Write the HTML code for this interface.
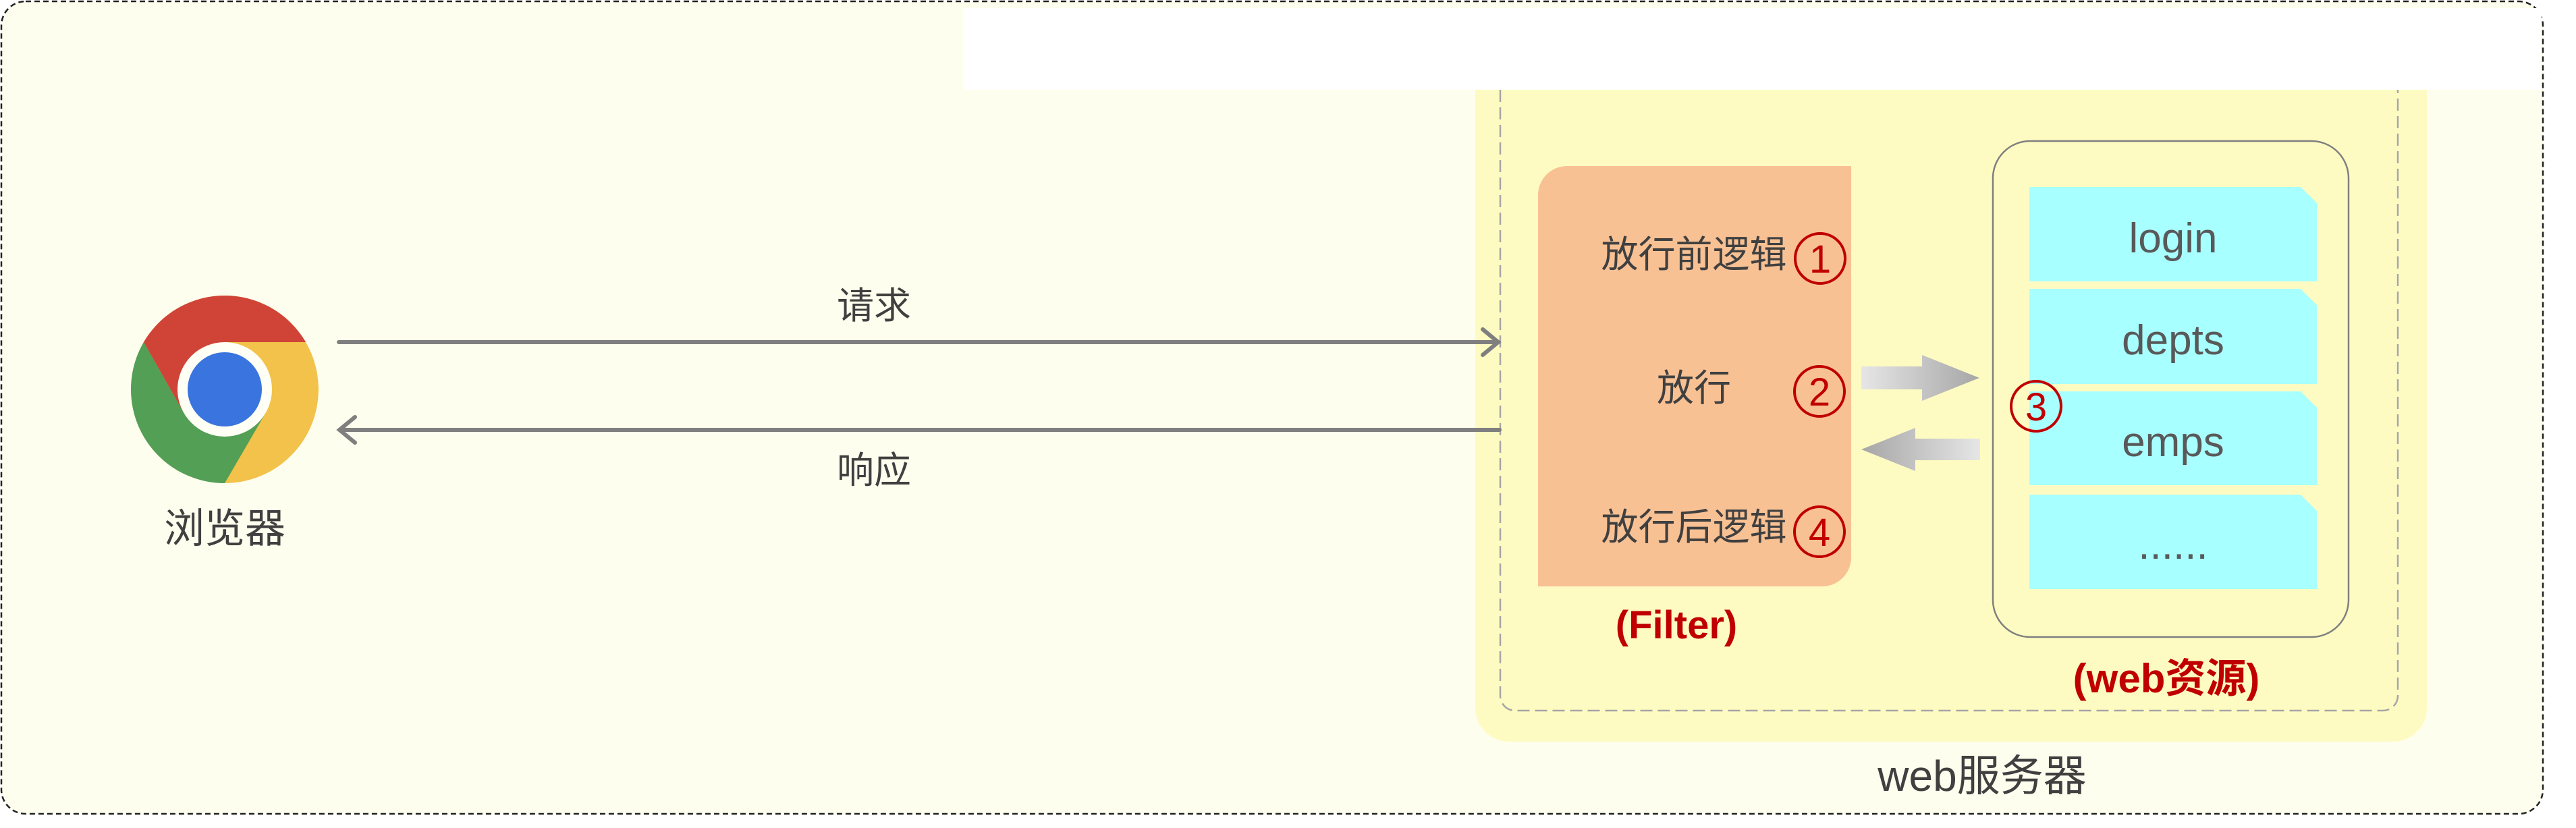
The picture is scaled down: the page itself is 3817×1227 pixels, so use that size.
<!DOCTYPE html>
<html><head><meta charset="utf-8"><style>
html,body{margin:0;padding:0;background:#fff;}
svg{display:block;}
text{font-family:"Liberation Sans","Noto Sans CJK SC",sans-serif;}
</style></head><body>
<svg width="3817" height="1227" viewBox="0 0 3817 1227" xmlns="http://www.w3.org/2000/svg">
<defs>
<linearGradient id="ga" x1="0" x2="1" y1="0" y2="0"><stop offset="0" stop-color="#e6e6e6"/><stop offset="1" stop-color="#a6a6a6"/></linearGradient>
<linearGradient id="gb" x1="1" x2="0" y1="0" y2="0"><stop offset="0" stop-color="#e6e6e6"/><stop offset="1" stop-color="#a6a6a6"/></linearGradient>
<clipPath id="cc"><circle cx="0" cy="0" r="139"/></clipPath>
</defs>
<rect x="2" y="2" width="3766" height="1204" rx="36" fill="#fefeee" stroke="#222" stroke-width="2.5" stroke-dasharray="8,5"/>
<rect x="1427" y="12" width="2339" height="121" fill="#ffffff"/>
<path d="M2186 133 H3596 V1049 a50 50 0 0 1 -50 50 H2236 a50 50 0 0 1 -50 -50 Z" fill="#fefbc2"/>
<path d="M2223 133 V1031 a22 22 0 0 0 22 22 H3531 a22 22 0 0 0 22 -22 V133" fill="none" stroke="#a6a6a6" stroke-width="2.5" stroke-dasharray="18,8"/>
<!-- Filter -->
<path d="M2322 246 H2743 V826 a43 43 0 0 1 -43 43 H2279 V289 a43 43 0 0 1 43 -43 Z" fill="#f8c194"/>
<g fill="#404040" font-size="55" text-anchor="middle">
<text x="2510" y="396">放行前逻辑</text>
<text x="2510" y="594">放行</text>
<text x="2510" y="800">放行后逻辑</text>
</g>
<g fill="none" stroke="#c00000" stroke-width="4">
<circle cx="2697" cy="383" r="37"/>
<circle cx="2696" cy="580" r="37"/>
<circle cx="2696" cy="788" r="37"/>
</g>
<g fill="#c00000" font-size="58" text-anchor="middle">
<text x="2697" y="404">1</text>
<text x="2696" y="601">2</text>
<text x="2696" y="809">4</text>
</g>
<text x="2484" y="946" fill="#c00000" font-size="58" font-weight="bold" text-anchor="middle">(Filter)</text>
<!-- gray arrows -->
<path d="M2758 543 H2848 V526 L2933 560 L2848 594 V577 H2758 Z" fill="url(#ga)"/>
<path d="M2934 650 H2838 V634 L2758 666 L2838 698 V682 H2934 Z" fill="url(#gb)"/>
<!-- resources -->
<rect x="2953" y="209" width="527" height="735" rx="55" fill="none" stroke="#808080" stroke-width="2.5"/>
<g fill="#a8ffff">
<path d="M3007 277 H3409 L3433 301 V417 H3007 Z"/>
<path d="M3007 428 H3409 L3433 452 V569 H3007 Z"/>
<path d="M3007 580 H3409 L3433 604 V719 H3007 Z"/>
<path d="M3007 733 H3409 L3433 757 V873 H3007 Z"/>
</g>
<g fill="#595959" font-size="62" text-anchor="middle">
<text x="3220" y="374">login</text>
<text x="3220" y="525">depts</text>
<text x="3220" y="676">emps</text>
<text x="3220" y="828">......</text>
</g>
<circle cx="3017" cy="602" r="37" fill="none" stroke="#c00000" stroke-width="4"/>
<text x="3017" y="623" fill="#c00000" font-size="58" text-anchor="middle">3</text>
<text x="3210" y="1026" fill="#c00000" font-size="60" font-weight="bold" text-anchor="middle">(web资源)</text>
<text x="2937" y="1172" fill="#404040" font-size="64" text-anchor="middle">web服务器</text>
<!-- request / response -->
<g stroke="#7f7f7f" stroke-width="6" fill="none" stroke-linecap="round">
<line x1="502" y1="507" x2="2220" y2="507"/>
<polyline points="2197,488 2220,507 2197,526"/>
<line x1="506" y1="637" x2="2222" y2="637"/>
<polyline points="526,618 503,637 526,656"/>
</g>
<g fill="#404040" font-size="55" text-anchor="middle">
<text x="1295" y="472">请求</text>
<text x="1295" y="716">响应</text>
<text x="333" y="804" font-size="60">浏览器</text>
</g>
<!-- chrome -->
<g transform="translate(333,577)">
<g clip-path="url(#cc)">
<circle r="139" fill="#f2c24a"/>
<polygon points="0,-70 250,-70 250,-250 -250,-250 -250,-176 -180,-176 -60.6,35" fill="#d04437"/>
<polygon points="60.6,35 -60.6,243 -300,243 -300,-176 -180,-176 -60.6,35" fill="#529f55"/>
</g>
<circle r="70" fill="#fffff5"/>
<circle r="55" fill="#3a74de"/>
</g>
</svg>
</body></html>
